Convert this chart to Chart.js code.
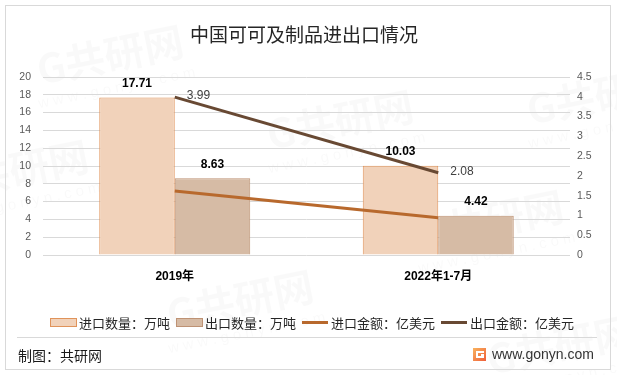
<!DOCTYPE html>
<html>
<head>
<meta charset="utf-8">
<script src="https://cdn.jsdelivr.net/npm/chart.js@4.4.0/dist/chart.umd.min.js"></script>
<style>
  html, body { margin: 0; padding: 0; background: #fff; }
  #wrap { position: relative; width: 617px; height: 375px; }
</style>
</head>
<body>
<div id="wrap"><canvas id="cocoaChart" width="617" height="375"></canvas></div>
<script>
// data
var categories = ['2019年', '2022年1-7月'];
var importQty = [17.71, 10.03];   // 万吨
var exportQty = [8.63, 4.42];     // 万吨
var importAmt = [1.62, 0.94];     // 亿美元 (no labels in source)
var exportAmt = [3.99, 2.08];     // 亿美元
var seriesNames = ['进口数量：万吨', '出口数量：万吨', '进口金额：亿美元', '出口金额：亿美元'];

var NUM_FONT = "'Liberation Sans', 'Noto Sans CJK SC', sans-serif";
var CJK_FONT = "'Noto Sans CJK SC', 'Liberation Sans', sans-serif";

var colors = {
	impFill: '#F1D2BA', impBorder: '#E0935A',
	expFill: '#D6BBA5', expBorder: '#BE9274',
	impLine: '#B8692D', expLine: '#684933',
	grid: '#D9D9D9', tick: '#595959'
};

function drawWatermark(ctx, x, y) {
	ctx.save();
	ctx.translate(x, y);
	ctx.rotate(-0.2);
	ctx.fillStyle = 'rgba(0,0,0,0.022)';
	ctx.font = "bold 40px " + CJK_FONT;
	ctx.textAlign = 'center';
	ctx.textBaseline = 'middle';
	ctx.fillText('G共研网', 0, 0);
	ctx.font = "15px " + NUM_FONT;
	ctx.fillText('w w w . g o n y n . c o m', 0, 34);
	ctx.restore();
}

var framePlugin = {
	id: 'frame',
	beforeDraw: function(chart) {
		var ctx = chart.ctx;
		ctx.save();
		ctx.fillStyle = '#fff';
		ctx.fillRect(0, 0, chart.width, chart.height);
		[[110, 55], [340, 120], [600, 95], [15, 170], [490, 220], [240, 300], [560, 345]].forEach(function(p) {
			drawWatermark(ctx, p[0], p[1]);
		});
		ctx.strokeStyle = '#D9D9D9';
		ctx.lineWidth = 1;
		ctx.strokeRect(5.5, 5.5, 605, 364);
		ctx.restore();
	},
	afterDraw: function(chart) {
		var ctx = chart.ctx;
		ctx.save();
		// title
		ctx.fillStyle = '#262626';
		ctx.font = "19px " + CJK_FONT;
		ctx.textAlign = 'center';
		ctx.textBaseline = 'middle';
		ctx.fillText('中国可可及制品进出口情况', 304, 35);

		// legend
		ctx.font = "13px " + CJK_FONT;
		ctx.textAlign = 'left';
		var x = 50, y = 322;
		var kinds = [
			{type: 'box', fill: colors.impFill, stroke: colors.impBorder},
			{type: 'box', fill: colors.expFill, stroke: colors.expBorder},
			{type: 'line', stroke: colors.impLine},
			{type: 'line', stroke: colors.expLine}
		];
		kinds.forEach(function(k, i) {
			if (k.type == 'box') {
				ctx.fillStyle = k.fill;
				ctx.fillRect(x + 0.5, y - 3.5, 26, 8);
				ctx.strokeStyle = k.stroke;
				ctx.lineWidth = 1;
				ctx.strokeRect(x + 0.5, y - 3.5, 26, 8);
				x += 29;
			} else {
				ctx.strokeStyle = k.stroke;
				ctx.lineWidth = 3;
				ctx.beginPath();
				ctx.moveTo(x, y + 0.5);
				ctx.lineTo(x + 26, y + 0.5);
				ctx.stroke();
				x += 29;
			}
			ctx.fillStyle = '#262626';
			ctx.fillText(seriesNames[i], x, y + 1);
			x += ctx.measureText(seriesNames[i]).width + 6;
		});

		// footer
		ctx.strokeStyle = '#D9D9D9';
		ctx.lineWidth = 1;
		ctx.beginPath();
		ctx.moveTo(17, 337.5);
		ctx.lineTo(597, 337.5);
		ctx.stroke();
		ctx.fillStyle = '#1a1a1a';
		ctx.font = "14px " + CJK_FONT;
		ctx.fillText('制图：共研网', 18, 356);

		var g = ctx.createLinearGradient(473, 348, 486, 361);
		g.addColorStop(0, '#F9B35E');
		g.addColorStop(1, '#EF5F3A');
		ctx.fillStyle = g;
		ctx.fillRect(473, 348, 13, 13);
		ctx.fillStyle = '#fff';
		ctx.fillRect(476, 351, 8, 2);
		ctx.fillRect(476, 351, 2, 7);
		ctx.fillRect(476, 356, 8, 2);
		ctx.fillRect(481, 354, 3, 3);
		ctx.fillStyle = '#333';
		ctx.font = "14px " + NUM_FONT;
		ctx.fillText('www.gonyn.com', 492, 355);
		ctx.restore();
	}
};

var valueLabels = {
	id: 'valueLabels',
	afterDatasetsDraw: function(chart) {
		var ctx = chart.ctx;
		ctx.save();
		ctx.textBaseline = 'middle';
		[0, 1].forEach(function(di) {
			var meta = chart.getDatasetMeta(di);
			ctx.font = "bold 12px " + NUM_FONT;
			ctx.fillStyle = '#000';
			ctx.textAlign = 'center';
			meta.data.forEach(function(bar, i) {
				ctx.fillText(chart.data.datasets[di].data[i].toFixed(2), bar.x, bar.y - 14);
			});
		});
		var lineMeta = chart.getDatasetMeta(3);
		ctx.font = "12px " + NUM_FONT;
		ctx.fillStyle = '#404040';
		ctx.textAlign = 'left';
		lineMeta.data.forEach(function(pt, i) {
			ctx.fillText(exportAmt[i].toFixed(2), pt.x + 12, pt.y - 1);
		});
		ctx.restore();
	}
};

var ctx = document.getElementById('cocoaChart');
var chart = new Chart(ctx, {
	type: 'bar',
	data: {
		labels: categories,
		datasets: [
			{label: seriesNames[0], data: importQty, backgroundColor: colors.impFill, borderColor: colors.impBorder, borderWidth: 1, yAxisID: 'y', order: 2},
			{label: seriesNames[1], data: exportQty, backgroundColor: colors.expFill, borderColor: colors.expBorder, borderWidth: 1, yAxisID: 'y', order: 2},
			{type: 'line', label: seriesNames[2], data: importAmt, borderColor: colors.impLine, backgroundColor: colors.impLine, borderWidth: 3, pointRadius: 0, yAxisID: 'y1', order: 1},
			{type: 'line', label: seriesNames[3], data: exportAmt, borderColor: colors.expLine, backgroundColor: colors.expLine, borderWidth: 3, pointRadius: 0, yAxisID: 'y1', order: 1}
		]
	},
	options: {
		responsive: false,
		animation: false,
		devicePixelRatio: 1,
		layout: {padding: {top: 77, bottom: 90, left: 0, right: 0}},
		datasets: {bar: {categoryPercentage: 0.573, barPercentage: 1}},
		plugins: {legend: {display: false}, title: {display: false}, tooltip: {enabled: false}},
		scales: {
			x: {
				grid: {display: false, drawTicks: false},
				border: {display: false},
				ticks: {color: '#000', font: {family: NUM_FONT, size: 12, weight: 'bold'}, padding: 14},
				afterFit: function(s) { s.width = s.width; s.height = 30; }
			},
			y: {
				position: 'left',
				min: 0, max: 20,
				grid: {color: colors.grid, drawTicks: false},
				border: {display: false},
				ticks: {stepSize: 2, color: colors.tick, font: {family: NUM_FONT, size: 10.5}, padding: 12},
				afterFit: function(s) { s.width = 43; }
			},
			y1: {
				position: 'right',
				min: 0, max: 4.5,
				grid: {display: false, drawOnChartArea: false, drawTicks: false},
				border: {display: false},
				ticks: {
					stepSize: 0.5, color: colors.tick, font: {family: NUM_FONT, size: 10.5}, padding: 7,
					callback: function(v) { return String(Math.round(v * 10) / 10); }
				},
				afterFit: function(s) { s.width = 47; }
			}
		}
	},
	plugins: [framePlugin, valueLabels]
});
</script>
</body>
</html>
